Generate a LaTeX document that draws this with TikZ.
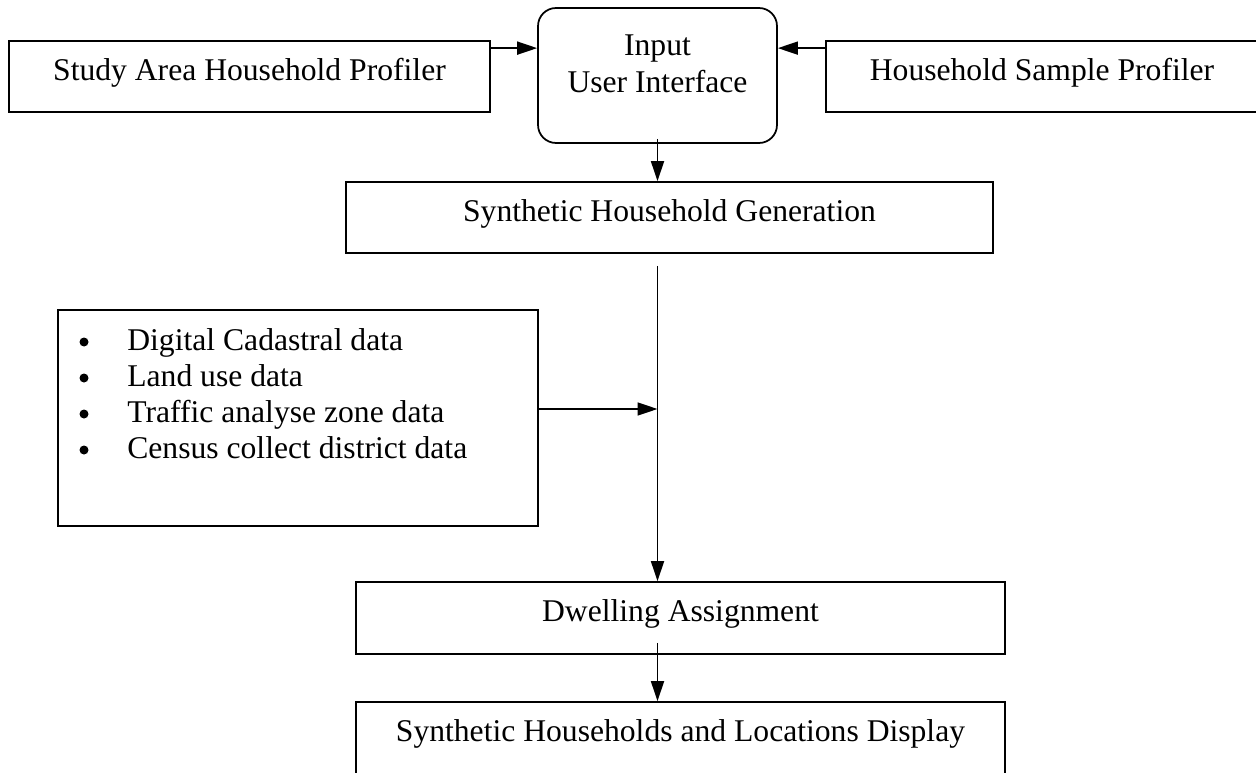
\documentclass[tikz,border=0pt]{standalone}
\usepackage{fontspec}
\setmainfont{Liberation Serif}
\usetikzlibrary{arrows.meta,positioning,calc}

\tikzset{
  box/.style={draw, line width=1pt, inner sep=0pt,
    font=\fontsize{18pt}{20.5pt}\selectfont, text height=12pt, text depth=8pt},
  uibox/.style={draw, line width=1pt, inner sep=0pt, rounded corners=0.36cm, align=center,
    font=\fontsize{18pt}{21pt}\selectfont, text height=23pt, text depth=3.3pt},
  item/.style={inner sep=0pt, font=\fontsize{18pt}{20.5pt}\selectfont},
  dot/.style={circle, fill, inner sep=0pt, minimum size=0.18cm},
  flow/.style={-{Triangle[length=4mm,width=2.6mm]}, line width=1pt},
}

\begin{document}
\begin{tikzpicture}[x=0.02cm, y=-0.02cm]
\useasboundingbox (0,0) rectangle (1256,773);

% top row
\node[box, minimum width=9.62cm, minimum height=1.42cm] (study) at (249.5,76.5) {Study Area Household Profiler};
\node[uibox, minimum width=4.78cm, minimum height=2.7cm] (ui) at (657.5,75.5) {Input\\User Interface};
\node[box, minimum width=8.64cm, minimum height=1.42cm] (sample) at (1042,76.5) {Household Sample Profiler};

% main column
\node[box, minimum width=12.94cm, minimum height=1.42cm] (shg) at (669.5,217.5) {Synthetic Household Generation};
\node[box, minimum width=12.98cm, minimum height=1.44cm] (dwell) at (680.5,618) {Dwelling Assignment};
\node[box, minimum width=12.98cm, minimum height=1.44cm] (disp) at (680.5,738) {Synthetic Households and Locations Display};

% data sources
\node[box, minimum width=9.6cm, minimum height=4.32cm] (data) at (298,418) {};
\foreach \i/\txt in {0/Digital Cadastral data, 1/Land use data, 2/Traffic analyse zone data, 3/Census collect district data}{
  \node[dot] (dot\i) at (84,{342+36*\i}) {};
  \node[item, anchor=base west] (item\i) at (127,{350+36*\i}) {\txt};
}

% connectors
\coordinate (in1) at ($(study.north east)+(0,8)$);
\coordinate (in2) at ($(sample.north west)+(0,8)$);
\draw[flow] (in1) -- (in1 -| ui.west);
\draw[flow] (in2) -- (in2 -| ui.east);
\draw[flow] ($(ui.south)+(0,-5)$) -- (ui.south |- shg.north);
\coordinate (split) at ($(ui.south |- shg.south)+(0,12)$);
\draw[flow] (split) -- (split |- dwell.north);
\coordinate (feed) at ($(data.east)+(0,-9)$);
\draw[flow] (feed) -- (feed -| split);
\draw[flow] ($(ui.south |- dwell.south)+(0,-12)$) -- (ui.south |- disp.north);
\end{tikzpicture}
\end{document}
